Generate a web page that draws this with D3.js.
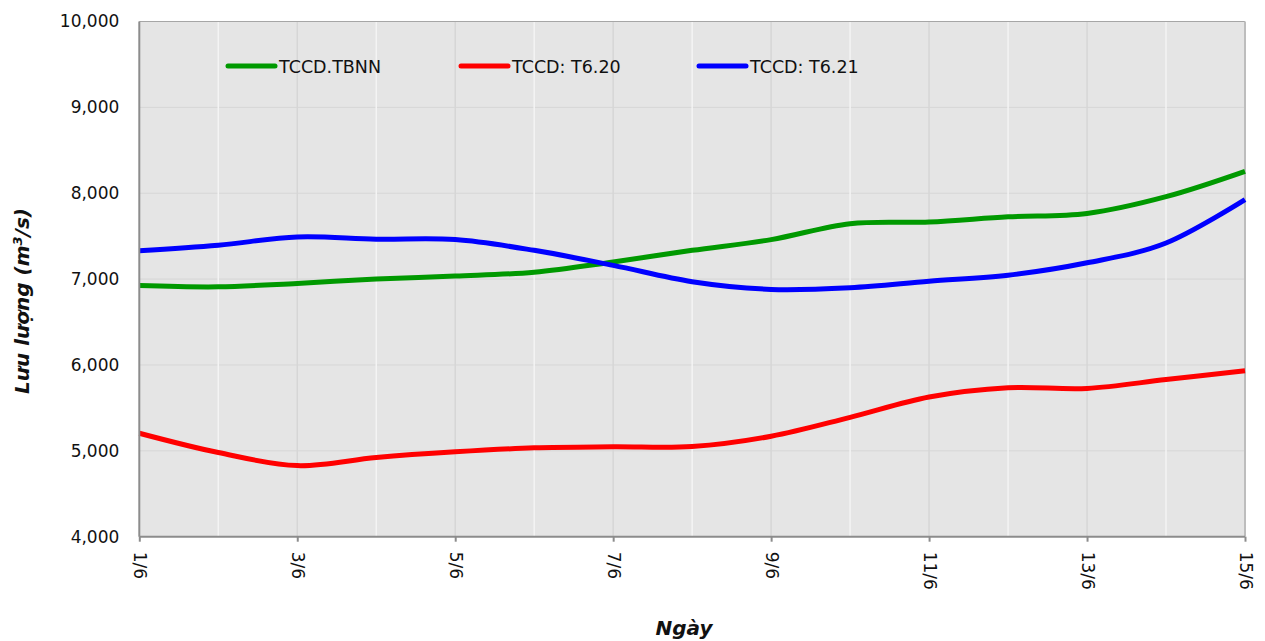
<!DOCTYPE html>
<html>
<head>
<meta charset="utf-8">
<script src="https://cdn.jsdelivr.net/npm/d3@7"></script>
<style>
  html, body { margin: 0; padding: 0; background: #fff; }
  svg { display: block; font-family: "DejaVu Sans", Verdana, sans-serif; }
</style>
</head>
<body>
<svg id="chart" width="1265" height="641"></svg>
<script>
const days = ["1/6","2/6","3/6","4/6","5/6","6/6","7/6","8/6","9/6","10/6","11/6","12/6","13/6","14/6","15/6"];
const tickLabels = ["1/6","3/6","5/6","7/6","9/6","11/6","13/6","15/6"];
const yTicks = [4000, 5000, 6000, 7000, 8000, 9000, 10000];
const seriesNames = ["TCCD.TBNN", "TCCD: T6.20", "TCCD: T6.21"];
const tbnn = [6925, 6910, 6950, 7000, 7035, 7080, 7200, 7335, 7460, 7645, 7665, 7725, 7765, 7960, 8255];
const t620 = [5205, 4980, 4828, 4922, 4988, 5035, 5047, 5050, 5170, 5390, 5627, 5735, 5727, 5830, 5932];
const t621 = [7330, 7395, 7490, 7465, 7460, 7335, 7160, 6970, 6880, 6900, 6975, 7045, 7190, 7420, 7925];
const colors = ["#009900", "#ff0000", "#0000ff"];

const svg = d3.select("#chart");
const L = 139.3, R = 1245, T = 21.5, B = 536.7;

const x = d3.scalePoint().domain(days).range([L, R]);
const y = d3.scaleLinear().domain([4000, 10000]).range([B, T]);

// plot background
svg.append("rect").attr("x", L).attr("y", T).attr("width", R - L).attr("height", B - T).attr("fill", "#e5e5e5");

// horizontal gridlines
svg.append("g").selectAll("line").data(yTicks.slice(1, -1)).join("line")
  .attr("x1", L).attr("x2", R).attr("y1", d => y(d)).attr("y2", d => y(d))
  .attr("stroke", "#d6d6d6").attr("stroke-width", 1);

// vertical gridlines: labeled days gray, others white
svg.append("g").selectAll("line").data(days.slice(1, -1)).join("line")
  .attr("x1", d => x(d)).attr("x2", d => x(d)).attr("y1", T).attr("y2", B)
  .attr("stroke", (d, i) => (i % 2 === 1 ? "#d6d6d6" : "#f4f4f4"))
  .attr("stroke-width", 1.5);

// border top/right
svg.append("line").attr("x1", L).attr("x2", R).attr("y1", T).attr("y2", T).attr("stroke", "#a6a6a6").attr("stroke-width", 1);
svg.append("line").attr("x1", R).attr("x2", R).attr("y1", T).attr("y2", B).attr("stroke", "#bdbdbd").attr("stroke-width", 2);

// lines
const line = d3.line().x((d, i) => x(days[i])).y(d => y(d)).curve(d3.curveCatmullRom.alpha(0));
const data = [tbnn, t620, t621];
svg.append("g").selectAll("path").data(data).join("path")
  .attr("d", d => line(d)).attr("fill", "none")
  .attr("stroke", (d, i) => colors[i]).attr("stroke-width", 5)
  .attr("stroke-linejoin", "round").attr("stroke-linecap", "butt");

// axes lines
svg.append("line").attr("x1", L).attr("x2", L).attr("y1", T).attr("y2", B).attr("stroke", "#8c8c8c").attr("stroke-width", 2);
svg.append("line").attr("x1", L).attr("x2", R).attr("y1", B).attr("y2", B).attr("stroke", "#8c8c8c").attr("stroke-width", 2);

// y axis labels
const yAxis = d3.axisLeft(y).tickValues(yTicks).tickSize(0).tickPadding(20).tickFormat(d3.format(","));
const gy = svg.append("g").attr("transform", `translate(${L},0)`).call(yAxis);
gy.select(".domain").remove();
gy.selectAll("text").attr("font-size", 17).attr("font-family", "DejaVu Sans, sans-serif").attr("fill", "#111");

// x axis
const xAxis = d3.axisBottom(x).tickValues(tickLabels).tickSize(5).tickPadding(0);
const gx = svg.append("g").attr("transform", `translate(0,${B})`).call(xAxis);
gx.select(".domain").remove();
gx.selectAll("line").attr("stroke", "#8c8c8c").attr("stroke-width", 2);
gx.selectAll("text")
  .attr("font-size", 17).attr("font-family", "DejaVu Sans, sans-serif").attr("fill", "#111")
  .attr("text-anchor", "start")
  .attr("transform", "rotate(90)")
  .attr("x", 15).attr("y", 0).attr("dy", "0.35em");

// legend
const legendX = [228, 461, 699];
const lg = svg.append("g").selectAll("g").data(seriesNames).join("g")
  .attr("transform", (d, i) => `translate(${legendX[i]},66)`);
lg.append("line").attr("x1", 0).attr("x2", 47).attr("y1", 0).attr("y2", 0)
  .attr("stroke", (d, i) => colors[i]).attr("stroke-width", 5).attr("stroke-linecap", "round");
lg.append("text").attr("x", 51).attr("y", 6.5).text(d => d)
  .attr("font-size", 17.5).attr("fill", "#111");

// axis titles
svg.append("text").attr("transform", "translate(29,301) rotate(-90)")
  .attr("text-anchor", "middle").attr("font-size", 20).attr("font-weight", "bold").attr("font-style", "italic")
  .attr("fill", "#111")
  .html("Lưu lượng (m<tspan baseline-shift='super' font-size='13'>3</tspan>/s)");
svg.append("text").attr("x", 684).attr("y", 635)
  .attr("text-anchor", "middle").attr("font-size", 20).attr("font-weight", "bold").attr("font-style", "italic")
  .attr("fill", "#111").text("Ngày");
</script>
</body>
</html>
